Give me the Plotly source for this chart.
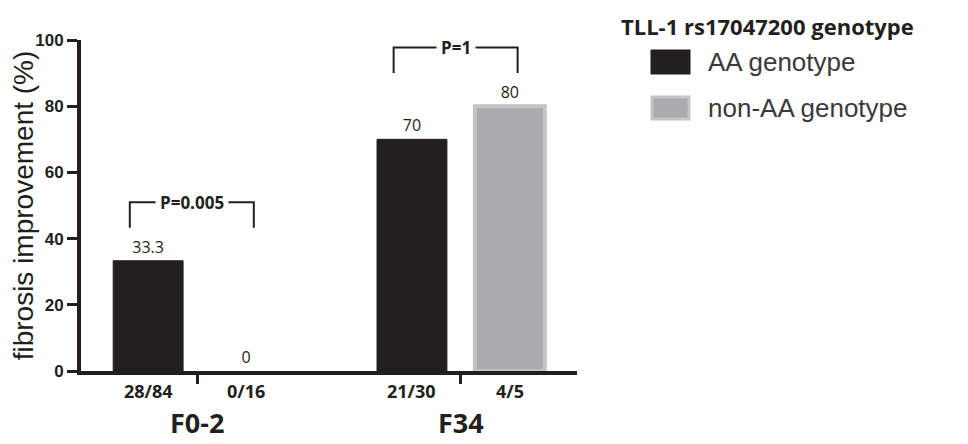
import plotly.graph_objects as go

# data
groups = ["F0-2", "F34"]
aa_values = [33.3, 70]
non_aa_values = [0, 80]
aa_counts = ["28/84", "21/30"]
non_aa_counts = ["0/16", "4/5"]
p_values = ["P=0.005", "P=1"]
y_ticks = [0, 20, 40, 60, 80, 100]

# styles
DARK = "#231f20"
GREY = "#a9abae"
GREY_EDGE = "#c2c4c6"
CAL = "Open Sans"
ARIAL = "Liberation Sans"

# page body keeps an 8px margin, so the figure is shrunk by that much
PAGE = 8
W, H = 968 - PAGE, 444 - PAGE

# plot area in window pixels
L, R, T, B = 81, 577, 40, 371
BARGAP = 0.258
BARGROUPGAP = 0.286
half_pitch = (1 - BARGAP) / 4


def px_x(p):
    return (p - L) / (R - L)


def px_y(p):
    return (B - p) / (B - T)


fig = go.Figure()
fig.add_bar(
    x=groups,
    y=aa_values,
    name="AA genotype",
    marker=dict(color=DARK, line=dict(color=DARK, width=1)),
    text=[f"{v:g}" for v in aa_values],
    textposition="outside",
    textfont=dict(family=CAL, size=16, color=DARK),
    cliponaxis=False,
)
fig.add_bar(
    x=groups,
    y=non_aa_values,
    name="non-AA genotype",
    marker=dict(color=GREY,
                line=dict(color=GREY_EDGE,
                          width=[4 if v > 0 else 0 for v in non_aa_values])),
    text=[f"{v:g}" for v in non_aa_values],
    textposition="outside",
    textfont=dict(family=CAL, size=16, color=DARK),
    cliponaxis=False,
)

shapes = []
annotations = []

# counts under bars and group names
for i, g in enumerate(groups):
    for label, off in ((aa_counts[i], -half_pitch), (non_aa_counts[i], half_pitch)):
        annotations.append(dict(
            x=i + off, y=0, xref="x", yref="paper", yanchor="middle",
            yshift=-20, text=f"<b>{label}</b>", showarrow=False,
            font=dict(family=CAL, size=18, color=DARK),
        ))
    annotations.append(dict(
        x=i, y=0, xref="x", yref="paper", yanchor="middle", yshift=-51,
        text=f"<b>{g}</b>", showarrow=False,
        font=dict(family=CAL, size=27, color=DARK),
    ))

# significance brackets
for i, p in enumerate(p_values):
    top = max(aa_values[i], non_aa_values[i])
    y_hi, y_lo = top + 17.7, top + 10
    x0, x1 = i - 0.255, i + 0.215
    shapes.append(dict(
        type="path", xref="x", yref="y",
        path=f"M {x0},{y_lo} L {x0},{y_hi} L {x1},{y_hi} L {x1},{y_lo}",
        line=dict(color=DARK, width=2),
    ))
    annotations.append(dict(
        x=(x0 + x1) / 2, y=y_hi, xref="x", yref="y", text=f"<b>{p}</b>",
        showarrow=False, bgcolor="white", borderpad=4,
        font=dict(family=CAL, size=17, color=DARK),
    ))

# legend
annotations.append(dict(
    x=px_x(619), y=px_y(9), xref="paper", yref="paper", xanchor="left",
    yanchor="top", text="<b>TLL-1 rs17047200 genotype</b>", showarrow=False,
    font=dict(family=CAL, size=22, color=DARK),
))
for name, fill, edge, yc in (
    ("AA genotype", DARK, DARK, 62),
    ("non-AA genotype", GREY, GREY_EDGE, 108),
):
    shapes.append(dict(
        type="rect", xref="paper", yref="paper",
        x0=px_x(652), x1=px_x(689), y0=px_y(yc - 11), y1=px_y(yc + 11),
        fillcolor=fill, line=dict(color=edge, width=3),
    ))
    annotations.append(dict(
        x=px_x(706), y=px_y(yc), xref="paper", yref="paper", xanchor="left",
        yanchor="middle", text=name, showarrow=False,
        font=dict(family=ARIAL, size=26, color="#3a3a3a"),
    ))

fig.update_layout(
    width=W,
    height=H,
    margin=dict(l=L - PAGE, r=968 - R, t=T - PAGE, b=444 - B, pad=0),
    plot_bgcolor="white",
    paper_bgcolor="white",
    barmode="group",
    bargap=BARGAP,
    bargroupgap=BARGROUPGAP,
    showlegend=False,
    shapes=shapes,
    annotations=annotations,
)
fig.update_xaxes(
    range=[-0.44, 1.44], automargin=False,
    showline=True, linecolor=DARK, linewidth=4,
    ticks="outside", ticklen=9, tickwidth=3, tickcolor=DARK,
    showticklabels=False, showgrid=False, zeroline=False,
)
fig.update_yaxes(
    range=[0, 100], automargin=False,
    tickvals=y_ticks,
    showline=True, linecolor=DARK, linewidth=4,
    ticks="outside", ticklen=10, tickwidth=3, tickcolor=DARK,
    tickfont=dict(family=ARIAL, size=17, color=DARK, weight="bold"),
    showgrid=False, zeroline=False,
    title=dict(text="fibrosis improvement (%)", standoff=12,
               font=dict(family=ARIAL, size=28, color=DARK)),
)

fig.write_html("out.html")
